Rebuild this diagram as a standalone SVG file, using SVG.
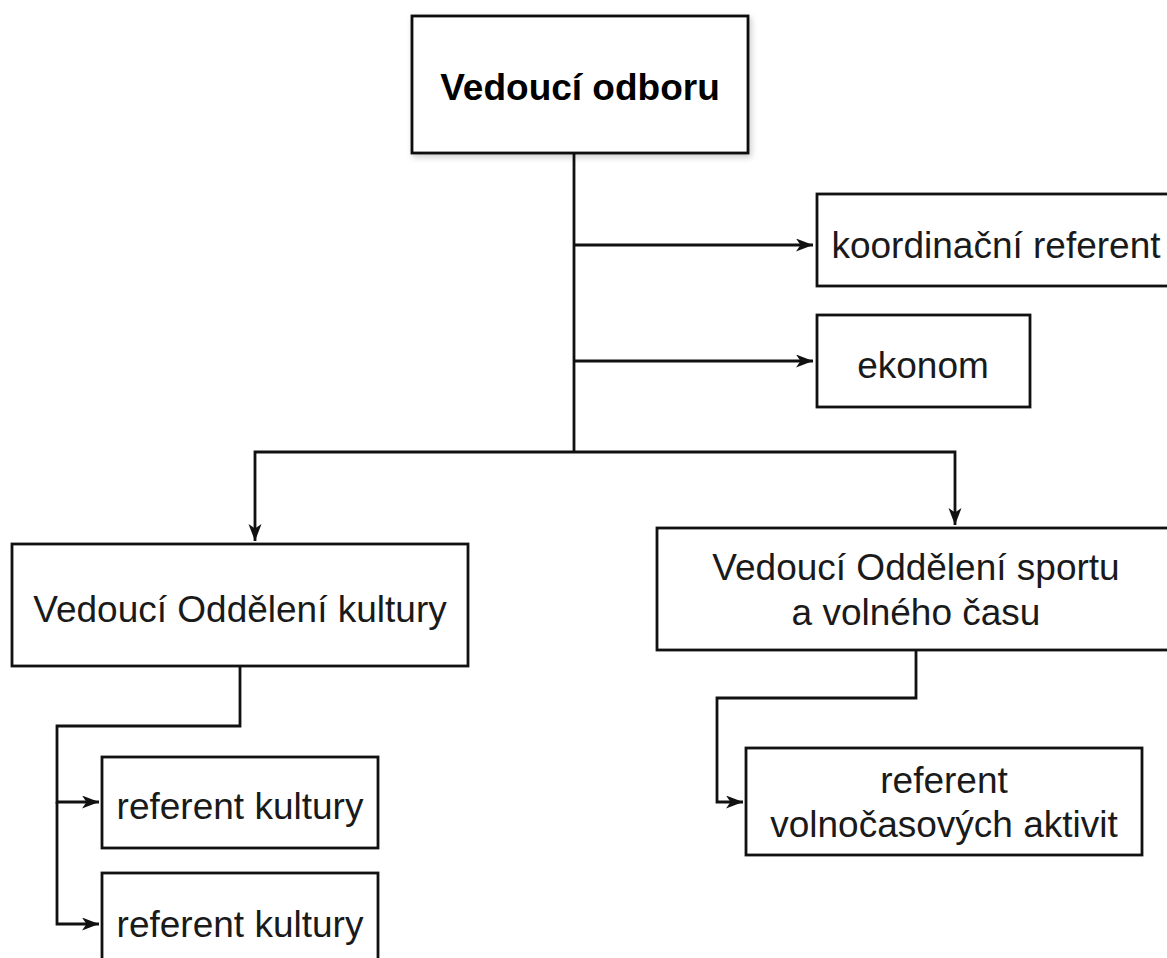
<svg xmlns="http://www.w3.org/2000/svg" width="1167" height="958" viewBox="0 0 1167 958">
<style>
.box{fill:#ffffff;stroke:#111111;stroke-width:2.8}
.t{font-family:"Liberation Sans",Arial,Helvetica,sans-serif;font-size:37px;fill:#1a1a1a;text-anchor:middle}
.b{font-weight:bold;fill:#000000}
.c{fill:none;stroke:#111111;stroke-width:2.8}
</style>
<defs>
<marker id="arr" markerUnits="userSpaceOnUse" markerWidth="18" markerHeight="14" refX="17" refY="6.5" orient="auto">
<path d="M0,0 L17,6.5 L0,13 L4.5,6.5 Z" fill="#111111"/>
</marker>
<filter id="sh" x="-10%" y="-10%" width="130%" height="140%">
<feGaussianBlur in="SourceAlpha" stdDeviation="3"/>
<feOffset dx="2" dy="3"/>
<feComponentTransfer><feFuncA type="linear" slope="0.2"/></feComponentTransfer>
<feMerge><feMergeNode/><feMergeNode in="SourceGraphic"/></feMerge>
</filter>
</defs>
<rect width="1167" height="958" fill="#ffffff"/>
<g id="connectors">
<path class="c" d="M574,153 V452"/>
<path class="c" d="M574,245 H813" marker-end="url(#arr)"/>
<path class="c" d="M574,361 H813" marker-end="url(#arr)"/>
<path class="c" d="M574,452 H255 V541" marker-end="url(#arr)"/>
<path class="c" d="M574,452 H955 V525" marker-end="url(#arr)"/>
<path class="c" d="M240,666 V726 H57 V802 H99" marker-end="url(#arr)"/>
<path class="c" d="M57,802 V924 H99" marker-end="url(#arr)"/>
<path class="c" d="M916,650 V698 H717 V802 H743" marker-end="url(#arr)"/>
</g>
<g id="n-vedouci-odboru">
<rect class="box" x="412" y="16" width="336" height="137" filter="url(#sh)"/>
<text class="t b" x="580" y="100">Vedoucí odboru</text>
</g>
<g id="n-koordinacni">
<rect class="box" x="817" y="194" width="360" height="92"/>
<text class="t" x="996" y="258">koordinační referent</text>
</g>
<g id="n-ekonom">
<rect class="box" x="817" y="315" width="213" height="92"/>
<text class="t" x="923" y="378">ekonom</text>
</g>
<g id="n-kultura">
<rect class="box" x="12" y="544" width="456" height="122"/>
<text class="t" x="240" y="622">Vedoucí Oddělení kultury</text>
</g>
<g id="n-sport">
<rect class="box" x="657" y="528" width="520" height="122"/>
<text class="t" x="916" y="580">Vedoucí Oddělení sportu</text>
<text class="t" x="916" y="625">a volného času</text>
</g>
<g id="n-ref-kultury-1">
<rect class="box" x="102" y="757" width="276" height="91"/>
<text class="t" x="240" y="819">referent kultury</text>
</g>
<g id="n-ref-kultury-2">
<rect class="box" x="102" y="873" width="276" height="100"/>
<text class="t" x="240" y="937">referent kultury</text>
</g>
<g id="n-ref-volnocas">
<rect class="box" x="746" y="748" width="396" height="107"/>
<text class="t" x="944" y="793">referent</text>
<text class="t" x="944" y="837">volnočasových aktivit</text>
</g>
</svg>
